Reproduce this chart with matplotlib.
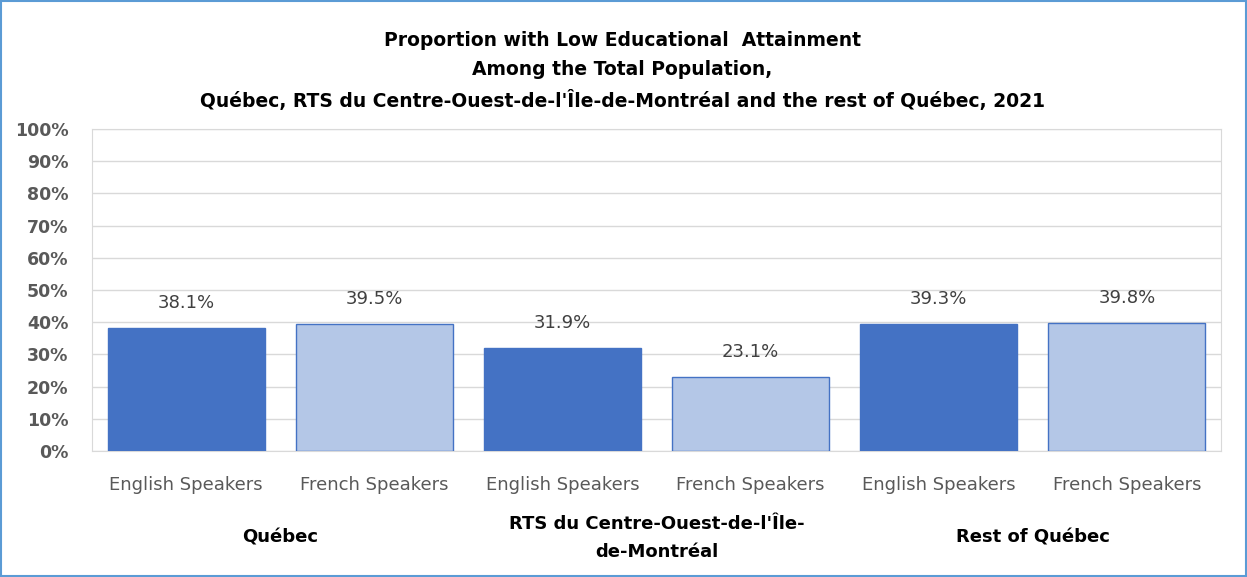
import matplotlib.pyplot as plt
from matplotlib.ticker import PercentFormatter
from matplotlib.patches import Rectangle

plt.rcParams['font.family'] = ['DejaVu Sans']

speakers = ['English Speakers', 'French Speakers'] * 3
groups = ['Québec', 'RTS du Centre-Ouest-de-l\'Île-\nde-Montréal', 'Rest of Québec']
values = [38.1, 39.5, 31.9, 23.1, 39.3, 39.8]

dark = '#4472C4'
light = '#B4C7E7'
colors = [dark, light] * 3

fig = plt.figure(figsize=(12.47, 5.77), dpi=100)
ax = fig.add_axes([92 / 1247, 1 - 451 / 577, (1221 - 92) / 1247, (451 - 129) / 577])

x = list(range(len(values)))
ax.bar(x, values, width=0.835, color=colors, edgecolor=dark, linewidth=1, zorder=3)
for xi, v in zip(x, values):
    ax.text(xi, v + 7.8, f'{v:.1f}%', ha='center', va='center', fontsize=13, color='#404040')

ax.set_xlim(-0.5, 5.5)
ax.set_ylim(0, 100)
ax.set_yticks(range(0, 101, 10))
ax.yaxis.set_major_formatter(PercentFormatter(decimals=0))
ax.grid(axis='y', color='#D9D9D9', linewidth=1, zorder=0)
for s in ax.spines.values():
    s.set_color('#D9D9D9')
ax.tick_params(axis='y', length=0, labelsize=12.5, labelcolor='#595959', pad=17)
for lbl in ax.get_yticklabels():
    lbl.set_fontweight('bold')
ax.set_xticks(x)
ax.set_xticklabels(speakers, fontsize=13, color='#595959')
ax.tick_params(axis='x', length=0, pad=18)

# group labels under the categories
ax.text(0.5, -0.27, groups[0], transform=ax.get_xaxis_transform(), ha='center', va='center',
        fontsize=13, fontweight='bold', color='black')
ax.text(2.5, -0.27, groups[1], transform=ax.get_xaxis_transform(), ha='center', va='center',
        fontsize=13, fontweight='bold', color='black', linespacing=1.7)
ax.text(4.5, -0.27, groups[2], transform=ax.get_xaxis_transform(), ha='center', va='center',
        fontsize=13, fontweight='bold', color='black')

fig.text(622 / 1247, 1 - 71 / 577,
         'Proportion with Low Educational  Attainment\nAmong the Total Population,\n'
         'Québec, RTS du Centre-Ouest-de-l\'Île-de-Montréal and the rest of Québec, 2021',
         ha='center', va='center', fontsize=13.5, fontweight='bold', linespacing=1.65)

fig.patches.append(Rectangle((0.001, 0.002), 0.998, 0.996, transform=fig.transFigure,
                             fill=False, edgecolor='#5B9BD5', linewidth=1.5))

fig.savefig('out.png', dpi=100)
